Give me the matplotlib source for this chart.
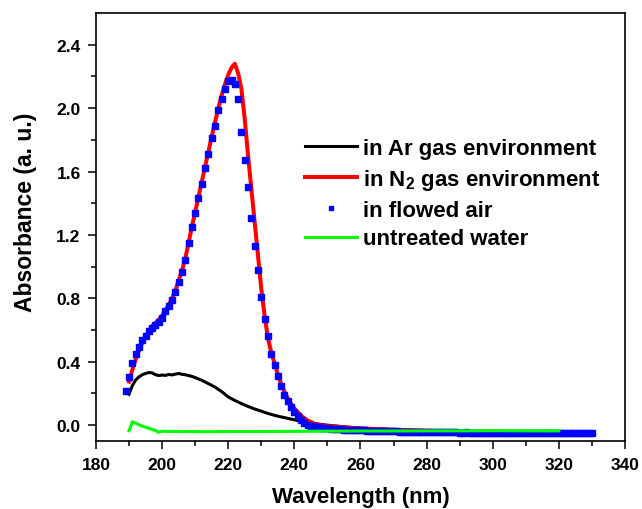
import matplotlib
matplotlib.use("Agg")
import matplotlib.pyplot as plt

plt.rcParams["font.family"] = ["Liberation Sans", "DejaVu Sans"]
plt.rcParams["font.weight"] = "bold"
plt.rcParams["mathtext.fontset"] = "custom"
plt.rcParams["mathtext.bf"] = "Liberation Sans:bold"
plt.rcParams["mathtext.rm"] = "Liberation Sans:bold"
plt.rcParams["mathtext.default"] = "bf"

# ---- data ----
ar_wl = [190, 191, 192, 193, 194, 195, 196, 197, 198, 199, 200, 201, 202, 203,
         204, 205, 206, 207, 208, 209, 210, 212, 214, 216, 218, 220, 222, 224,
         226, 228, 230, 232, 234, 236, 238, 240, 243, 246, 250, 255, 260, 270,
         280, 290, 300, 310, 320, 330]
ar_abs = [0.195, 0.250, 0.285, 0.305, 0.318, 0.326, 0.332, 0.330, 0.318, 0.313,
          0.316, 0.314, 0.320, 0.317, 0.322, 0.326, 0.321, 0.318, 0.313, 0.308,
          0.300, 0.283, 0.262, 0.240, 0.212, 0.178, 0.156, 0.136, 0.118, 0.102,
          0.088, 0.074, 0.062, 0.052, 0.043, 0.034, 0.020, 0.010, 0.000, -0.010,
          -0.019, -0.028, -0.034, -0.039, -0.043, -0.046, -0.049, -0.051]

n2_wl = [190, 191, 192, 193, 194, 195, 196, 197, 198, 199, 200, 201, 202, 203,
         204, 205, 206, 207, 208, 209, 210, 211, 212, 213, 214, 215, 216, 217,
         218, 219, 220, 221, 222, 223, 224, 225, 226, 227, 228, 229, 230, 231,
         232, 233, 234, 235, 236, 237, 238, 239, 240, 242, 244, 246, 248, 250,
         255, 260, 270, 280, 290, 300, 310, 320, 330]
n2_abs = [0.275, 0.350, 0.415, 0.470, 0.520, 0.560, 0.598, 0.625, 0.645, 0.665,
          0.690, 0.725, 0.760, 0.800, 0.850, 0.910, 0.975, 1.050, 1.150, 1.250,
          1.345, 1.440, 1.535, 1.630, 1.725, 1.820, 1.910, 2.000, 2.080, 2.150,
          2.210, 2.255, 2.280, 2.220, 2.120, 1.930, 1.700, 1.490, 1.280, 1.070,
          0.860, 0.690, 0.550, 0.460, 0.390, 0.320, 0.260, 0.210, 0.170, 0.135,
          0.105, 0.060, 0.030, 0.010, 0.000, -0.006, -0.014, -0.020, -0.029,
          -0.035, -0.040, -0.043, -0.046, -0.049, -0.052]

air_wl = list(range(189, 331))
air_abs = [0.216, 0.304, 0.390, 0.450, 0.490, 0.535, 0.565, 0.597, 0.615, 0.635,
           0.650, 0.678, 0.720, 0.750, 0.790, 0.840, 0.905, 0.968, 1.040, 1.150,
           1.250, 1.340, 1.430, 1.520, 1.620, 1.710, 1.810, 1.890, 1.990, 2.060,
           2.120, 2.170, 2.180, 2.150, 2.060, 1.850, 1.670, 1.500, 1.310, 1.130,
           0.980, 0.810, 0.670, 0.560, 0.450, 0.380, 0.310, 0.245, 0.190, 0.150,
           0.115, 0.080, 0.055, 0.030, 0.015, 0.002, -0.004, -0.008, -0.012, -0.015,
           -0.018, -0.021, -0.023, -0.025, -0.026, -0.027, -0.028, -0.029, -0.030, -0.031,
           -0.031, -0.032, -0.033, -0.034, -0.034, -0.035, -0.036, -0.036, -0.037, -0.038,
           -0.038, -0.039, -0.039, -0.040, -0.040, -0.041, -0.041, -0.042, -0.042, -0.042,
           -0.043, -0.043, -0.044, -0.044, -0.044, -0.045, -0.045, -0.045, -0.046, -0.046,
           -0.046, -0.047, -0.047, -0.046, -0.047, -0.047, -0.048, -0.047, -0.048, -0.048,
           -0.047, -0.048, -0.048, -0.048, -0.049, -0.048, -0.048, -0.049, -0.049, -0.049,
           -0.048, -0.049, -0.049, -0.050, -0.049, -0.049, -0.050, -0.050, -0.050, -0.050,
           -0.051, -0.051, -0.052, -0.051, -0.052, -0.052, -0.051, -0.052, -0.052, -0.052,
           -0.052, -0.052]

water_wl = [190, 191, 192, 193, 194, 195, 196, 197, 198, 199, 200, 202, 204, 206,
            208, 210, 215, 220, 230, 240, 250, 260, 270, 280, 290, 300, 310, 320]
water_abs = [-0.035, 0.022, 0.012, 0.003, -0.006, -0.013, -0.020, -0.027, -0.034,
             -0.045, -0.038, -0.040, -0.039, -0.041, -0.040, -0.041, -0.041, -0.040,
             -0.040, -0.039, -0.038, -0.037, -0.037, -0.036, -0.036, -0.035, -0.036,
             -0.036]

fig = plt.figure(figsize=(6.42, 5.10), dpi=100)
ax = fig.add_axes([0.1495, 0.1333, 0.824, 0.8392])

ax.plot(ar_wl, ar_abs, color="black", lw=2.2, label="in Ar gas environment", zorder=2)
ax.plot(n2_wl, n2_abs, color="#ff0000", lw=2.9, label=r"in N$_2$ gas environment", zorder=3)
ax.plot(air_wl, air_abs, ls="none", marker="s", ms=3.8, color="#0000ff",
        mec="#0000ff", label="in flowed air", zorder=4)
ax.plot(water_wl, water_abs, color="#00ff00", lw=2.2, label="untreated water", zorder=5)

ax.set_xlim(180, 340)
ax.set_ylim(-0.1, 2.6)
ax.set_xticks(range(180, 341, 20))
ax.set_xticks(range(190, 340, 20), minor=True)
ax.set_yticks([0.0, 0.4, 0.8, 1.2, 1.6, 2.0, 2.4])
ax.set_yticks([0.2, 0.6, 1.0, 1.4, 1.8, 2.2], minor=True)
ax.yaxis.set_major_formatter(matplotlib.ticker.FormatStrFormatter("%.1f"))

for s in ax.spines.values():
    s.set_linewidth(1.2)
ax.tick_params(which="both", direction="out", width=1.1, labelsize=12.5, top=False, right=False)
ax.tick_params(which="major", length=5.5)
ax.tick_params(which="minor", length=3.5)
ax.tick_params(axis="y", which="major", pad=5.5)
ax.tick_params(axis="x", which="major", pad=6)
for lab in ax.get_xticklabels() + ax.get_yticklabels():
    lab.set_fontweight("bold")

ax.set_xlabel("Wavelength (nm)", fontsize=16, fontweight="bold")
ax.xaxis.set_label_coords(0.5, -0.104)
ax.set_ylabel("Absorbance (a. u.)", fontsize=16.5, fontweight="bold")
ax.yaxis.set_label_coords(-0.112, 0.537)

ax.legend(loc="upper left", bbox_to_anchor=(294 / 642, 1 - 128 / 510),
          bbox_transform=fig.transFigure, frameon=False,
          prop={"weight": "bold", "size": 16}, borderpad=0, handlelength=2.35,
          handletextpad=0.27, labelspacing=0.35, numpoints=1, markerscale=0.9)

fig.savefig("out.png", dpi=100)
